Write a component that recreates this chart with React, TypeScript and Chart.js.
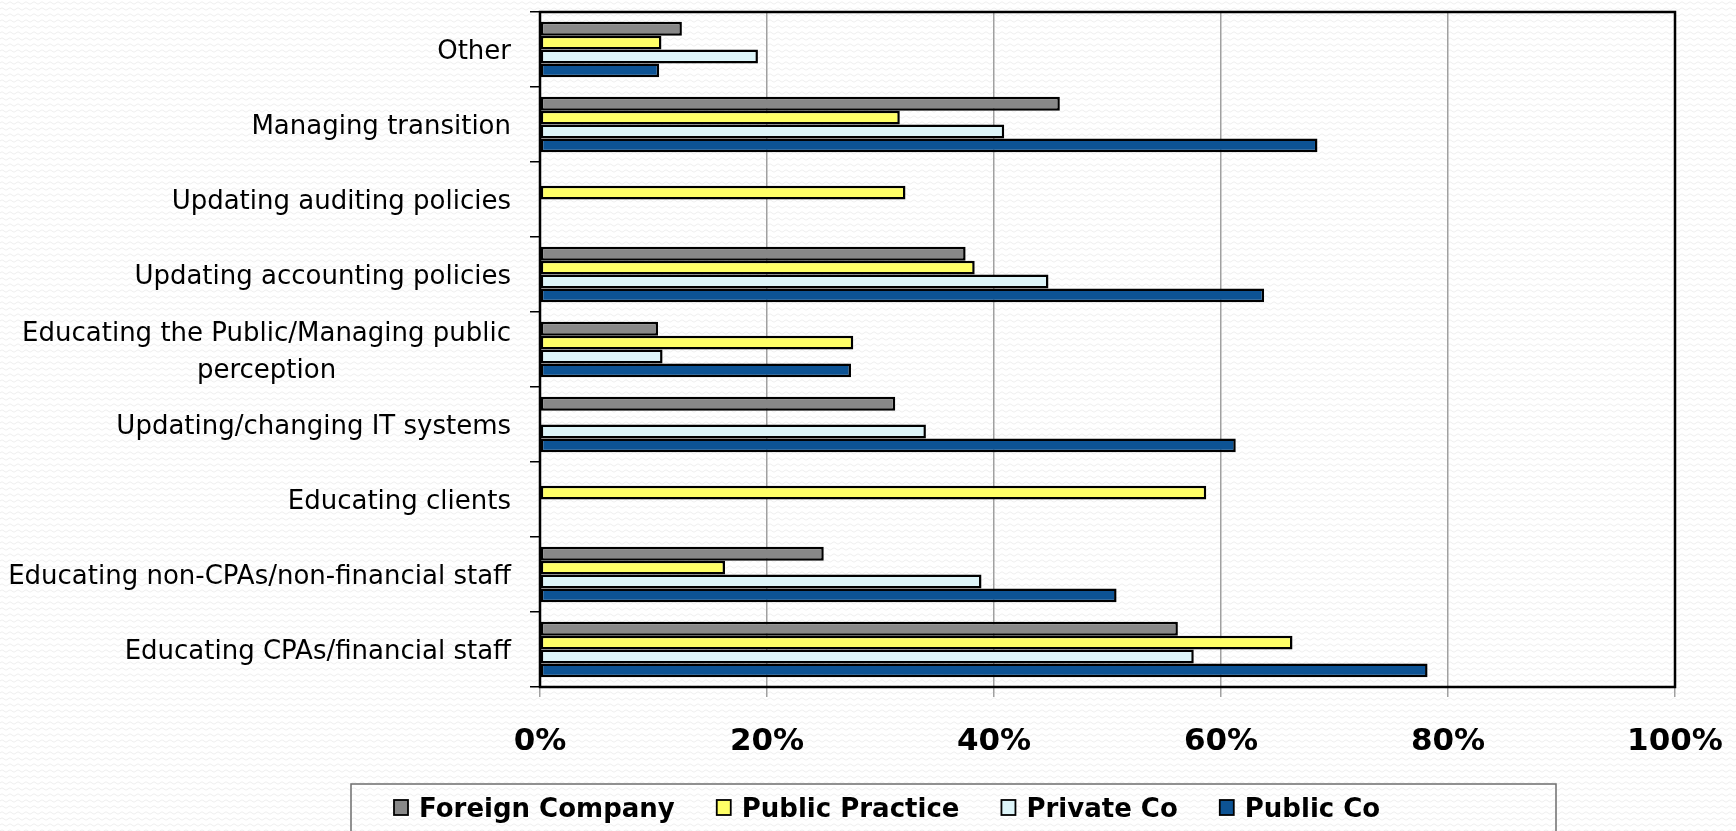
import React, { useEffect, useRef } from "react";
import { Chart, registerables } from "chart.js";

Chart.register(...registerables);

const categories: (string | string[])[] = [
  "Other",
  "Managing transition",
  "Updating auditing policies",
  "Updating accounting policies",
  ["Educating the Public/Managing public", "perception"],
  "Updating/changing IT systems",
  "Educating clients",
  "Educating non-CPAs/non-financial staff",
  "Educating CPAs/financial staff",
];

const seriesNames = ["Foreign Company", "Public Practice", "Private Co", "Public Co"];
const seriesColors = ["#888888", "#FFFF66", "#DDF5F9", "#0D5394"];

const foreignCompany = [12.5, 45.8, null, 37.5, 10.4, 31.3, null, 25.0, 56.2];
const publicPractice = [10.7, 31.7, 32.2, 38.3, 27.6, null, 58.7, 16.3, 66.3];
const privateCo = [19.2, 40.9, null, 44.8, 10.8, 34.0, null, 38.9, 57.6];
const publicCo = [10.5, 68.5, null, 63.8, 27.4, 61.3, null, 50.8, 78.2];

const xTickStep = 20;
const xMax = 100;

const W = 1736;
const H = 831;

export default function App() {
  const ref = useRef<HTMLCanvasElement>(null);

  useEffect(() => {
    document.body.style.margin = "0";
    const canvas = ref.current!;

    const pat = document.createElement("canvas");
    pat.width = 8;
    pat.height = 6;
    const pctx = pat.getContext("2d")!;
    pctx.fillStyle = "#ffffff";
    pctx.fillRect(0, 0, 8, 6);
    pctx.strokeStyle = "rgba(0,0,0,0.07)";
    pctx.lineWidth = 1;
    pctx.beginPath();
    pctx.moveTo(0, 3);
    pctx.quadraticCurveTo(2, 0.5, 4, 3);
    pctx.quadraticCurveTo(6, 5.5, 8, 3);
    pctx.stroke();

    const bgPlugin = {
      id: "bg",
      beforeDraw(chart: any) {
        const ctx = chart.ctx;
        ctx.save();
        ctx.fillStyle = "#ffffff";
        ctx.fillRect(0, 0, W, H);
        const p = ctx.createPattern(pat, "repeat");
        if (p) {
          ctx.fillStyle = p;
          ctx.fillRect(0, 0, W, H);
        }
        ctx.restore();
      },
    };

    const framePlugin = {
      id: "frame",
      afterDatasetsDraw(chart: any) {
        const ctx = chart.ctx;
        const { left, top, right, bottom } = chart.chartArea;
        ctx.save();
        ctx.strokeStyle = "#000";
        ctx.lineWidth = 2.5;
        ctx.strokeRect(left, top, right - left, bottom - top);
        ctx.restore();
      },
    };

    const yLabelPlugin = {
      id: "ylabels",
      afterDraw(chart: any) {
        const ctx = chart.ctx;
        const y = chart.scales.y;
        ctx.save();
        ctx.font = "26px 'DejaVu Sans'";
        ctx.fillStyle = "#000";
        ctx.textBaseline = "middle";
        ctx.textAlign = "center";
        const rightX = y.right - 29;
        const lh = 36.5;
        (chart.data.labels as (string | string[])[]).forEach((c, i) => {
          const lines = Array.isArray(c) ? c : [c];
          const cy = y.getPixelForValue(i) + 3;
          const maxW = Math.max(...lines.map((l) => ctx.measureText(l).width));
          lines.forEach((l, j) => {
            const ly = cy + (j - (lines.length - 1) / 2) * lh;
            ctx.fillText(l, rightX - maxW / 2, ly);
          });
        });
        ctx.restore();
      },
    };

    const legendPlugin = {
      id: "customLegend",
      afterDraw(chart: any) {
        const ctx = chart.ctx;
        ctx.save();
        ctx.strokeStyle = "#6e6e6e";
        ctx.lineWidth = 1.5;
        ctx.strokeRect(351, 784, 1205, 70);
        ctx.font = "bold 26px 'DejaVu Sans'";
        ctx.textBaseline = "alphabetic";
        ctx.textAlign = "left";
        let x = 394;
        chart.data.datasets.forEach((ds: any) => {
          ctx.fillStyle = ds.backgroundColor;
          ctx.fillRect(x, 800, 14, 15);
          ctx.strokeStyle = "#000";
          ctx.lineWidth = 1.8;
          ctx.strokeRect(x, 800, 14, 15);
          ctx.fillStyle = "#000";
          const tx = x + 25;
          ctx.fillText(ds.label, tx, 817);
          x = tx + ctx.measureText(ds.label).width + 42;
        });
        ctx.restore();
      },
    };

    const seriesData = [foreignCompany, publicPractice, privateCo, publicCo];

    const chart = new Chart(canvas, {
      type: "bar",
      data: {
        labels: categories as any,
        datasets: seriesNames.map((name, i) => ({
          label: name,
          data: seriesData[i] as any,
          backgroundColor: seriesColors[i],
          borderColor: "#000",
          borderWidth: 2.5,
          borderSkipped: false,
          categoryPercentage: 0.74,
          barPercentage: 1.0,
        })),
      },
      options: {
        indexAxis: "y",
        responsive: false,
        devicePixelRatio: 1,
        animation: false,
        layout: { padding: { top: 12, right: 61, left: 0, bottom: 0 } },
        plugins: {
          legend: { display: false },
          tooltip: { enabled: false },
        },
        scales: {
          x: {
            type: "linear",
            min: 0,
            max: xMax,
            afterFit(s: any) {
              s.height = 144;
              s.paddingLeft = 0;
              s.paddingRight = 0;
            },
            ticks: {
              stepSize: xTickStep,
              callback: (v: any) => v + "%",
              font: { family: "'DejaVu Sans'", size: 31, weight: "bold" },
              color: "#000",
              padding: 26,
              maxRotation: 0,
            },
            grid: {
              color: "#a0a0a0",
              lineWidth: 1.5,
              drawTicks: true,
              tickLength: 10,
            },
            border: { display: false },
          },
          y: {
            type: "category",
            offset: true,
            afterFit(s: any) {
              s.width = 540;
              s.paddingTop = 0;
              s.paddingBottom = 0;
            },
            ticks: { display: false },
            grid: {
              display: true,
              offset: true,
              drawOnChartArea: false,
              drawTicks: true,
              tickLength: 10,
              color: "#000",
              lineWidth: 1.5,
            },
            border: { display: false },
          },
        },
      } as any,
      plugins: [bgPlugin, framePlugin, yLabelPlugin, legendPlugin],
    });

    return () => chart.destroy();
  }, []);

  return (
    <div style={{ position: "absolute", left: 0, top: 0, width: W, height: H }}>
      <canvas ref={ref} width={W} height={H} style={{ display: "block" }} />
    </div>
  );
}
